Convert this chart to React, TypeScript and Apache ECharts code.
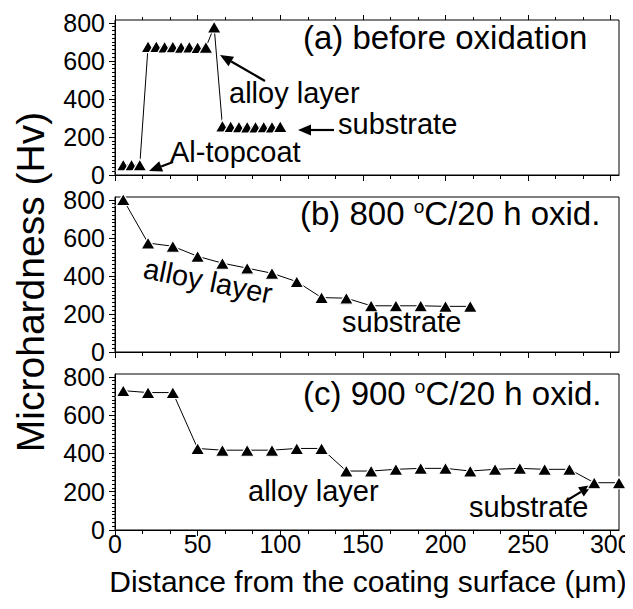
import React, { useEffect, useRef } from "react";
import * as echarts from "echarts";

// Panel (a) before oxidation
const xA = [5, 10, 15, 20, 25, 30, 35, 40, 45, 50, 55, 60, 65, 70, 75, 80, 85, 90, 95, 100];
const yA = [53, 53, 53, 675, 676, 673, 674, 672, 673, 670, 672, 778, 258, 255, 253, 252, 252, 253, 252, 255];
// Panel (b) 800 C / 20 h
const xB = [5, 20, 35, 50, 65, 80, 95, 110, 125, 140, 155, 170, 185, 200, 215];
const yB = [802, 573, 556, 503, 467, 441, 414, 370, 286, 283, 243, 243, 243, 240, 240];
// Panel (c) 900 C / 20 h
const xC = [5, 20, 35, 50, 65, 80, 95, 110, 125, 140, 155, 170, 185, 200, 215, 230, 245, 260, 275, 290, 305];
const yC = [728, 718, 718, 426, 417, 417, 417, 426, 426, 308, 308, 317, 322, 322, 308, 317, 322, 317, 317, 247, 247];

const xMajor = [0, 50, 100, 150, 200, 250, 300];
const yMajor = [0, 200, 400, 600, 800];

const FONT = "Liberation Sans, Arial, sans-serif";
const TICK_FS = 25;
const ANN_FS = 29;
const TITLE_FS = 33;

export default function App() {
  const ref = useRef<HTMLDivElement>(null);
  useEffect(() => {
    if (!ref.current) return;
    const chart = echarts.init(ref.current, undefined, { renderer: "svg" });

    const xMinor: number[] = [];
    for (let i = 0; i <= 18; i++) if (i % 3 !== 0) xMinor.push((i * 50) / 3);
    const yMinor: number[] = [];
    for (let v = 20; v < 800; v += 20) if (v % 200 !== 0) yMinor.push(v);

    const grids = [
      { left: 107, width: 504, top: 12, height: 155 },
      { left: 107, width: 504, top: 189, height: 155 },
      { left: 107, width: 504, top: 366, height: 156 },
    ];

    const tickAxis = (g: number, position: string, values: number[], length: number) => ({
      gridIndex: g, type: "value", min: 0, max: 305, position,
      axisLine: { show: false, onZero: false },
      axisTick: { show: true, inside: false, length, customValues: values, lineStyle: { color: "#000" } },
      axisLabel: { show: false },
      splitLine: { show: false },
    });

    const xAxes: any[] = [];
    const yAxes: any[] = [];
    grids.forEach((_, g) => {
      xAxes.push({
        gridIndex: g, type: "value", min: 0, max: 305, position: "bottom",
        axisLine: { show: true, onZero: false, lineStyle: { color: "#000", width: 1 } },
        axisTick: { show: true, inside: false, length: 6, customValues: xMajor, lineStyle: { color: "#000" } },
        axisLabel: { show: g === 2, customValues: xMajor, fontSize: TICK_FS, color: "#000", fontFamily: FONT, margin: 1 },
        splitLine: { show: false },
      });
      xAxes.push(tickAxis(g, "bottom", xMinor, 4));
      yAxes.push({
        gridIndex: g, type: "value", min: 0, max: 815, position: "left",
        axisLine: { show: true, onZero: false, lineStyle: { color: "#000", width: 1 } },
        axisTick: { show: true, inside: false, length: 6, customValues: yMajor, lineStyle: { color: "#000" } },
        axisLabel: {
          show: true, customValues: yMajor, fontSize: TICK_FS, color: "#000", fontFamily: FONT, margin: 10,
          padding: [0, 0, 10, 0],
        },
        splitLine: { show: false },
      });
      yAxes.push({
        gridIndex: g, type: "value", min: 0, max: 815, position: "left",
        axisLine: { show: false, onZero: false },
        axisTick: { show: true, inside: false, length: 3, customValues: yMinor, lineStyle: { color: "#000" } },
        axisLabel: { show: false },
        splitLine: { show: false },
      });
    });
    // top-edge ticks of panel (a)
    xAxes.push(tickAxis(0, "top", xMajor, 5));
    xAxes.push(tickAxis(0, "top", xMinor, 3));

    const mk = (xs: number[], ys: number[], g: number) => ({
      type: "line",
      xAxisIndex: g * 2,
      yAxisIndex: g * 2,
      data: xs.map((x, i) => [x, ys[i]]),
      symbol: "triangle",
      symbolSize: [14, 12],
      showAllSymbol: true,
      clip: true,
      lineStyle: { color: "#000", width: 1 },
      itemStyle: { color: "#000", borderColor: "#fff", borderWidth: 1.2 },
      emphasis: { disabled: true },
    });

    const txt = (text: string, x: number, y: number, extra: any = {}) => ({
      type: "text", x, y, ...extra,
      style: {
        text, font: `${ANN_FS}px ${FONT}`, fill: "#000", align: "left", verticalAlign: "middle",
        ...(extra.style || {}),
      },
    });

    const arrow = (x1: number, y1: number, x2: number, y2: number) => {
      const ang = Math.atan2(y2 - y1, x2 - x1);
      const L = 13, W = 5.5;
      const bx = x2 - L * Math.cos(ang), by = y2 - L * Math.sin(ang);
      const px = -Math.sin(ang) * W, py = Math.cos(ang) * W;
      return {
        type: "group",
        children: [
          { type: "line", shape: { x1, y1, x2: bx, y2: by }, style: { stroke: "#000", lineWidth: 2.2 } },
          { type: "polygon", shape: { points: [[x2, y2], [bx + px, by + py], [bx - px, by - py]] }, style: { fill: "#000" } },
        ],
      };
    };

    const supRich = {
      sup: { fontSize: 19, fontFamily: FONT, verticalAlign: "top", padding: [0, 0, 12, 0] },
    };

    chart.setOption({
      animation: false,
      backgroundColor: "#fff",
      grid: grids.map((g) => ({ ...g, show: true, borderColor: "#000", borderWidth: 1, backgroundColor: "transparent" })),
      xAxis: xAxes,
      yAxis: yAxes,
      series: [mk(xA, yA, 0), mk(xB, yB, 1), mk(xC, yC, 2)],
      graphic: [
        // axis titles
        txt("Microhardness (Hv)", 22, 274, { rotation: Math.PI / 2, style: { align: "center", font: `39px ${FONT}` } }),
        txt("Distance from the coating surface (\u03bcm)", 360, 573, { style: { align: "center", font: `30px ${FONT}` } }),
        // panel a
        txt("(a) before oxidation", 295, 29, { style: { font: `${TITLE_FS}px ${FONT}` } }),
        txt("alloy layer", 221, 85),
        arrow(257, 73, 212, 47),
        txt("substrate", 330, 116),
        arrow(326, 122, 290, 122),
        txt("Al-topcoat", 162, 144),
        arrow(165, 154, 141, 163),
        // panel b
        {
          type: "text", x: 292, y: 205,
          style: { text: "(b) 800 {sup|o}C/20 h oxid.", font: `${TITLE_FS}px ${FONT}`, fill: "#000", align: "left", verticalAlign: "middle", rich: supRich },
        },
        txt("alloy layer", 200, 273, { rotation: -0.2, style: { align: "center" } }),
        txt("substrate", 334, 314),
        // panel c
        {
          type: "text", x: 295, y: 385,
          style: { text: "(c) 900 {sup|o}C/20 h oxid.", font: `${TITLE_FS}px ${FONT}`, fill: "#000", align: "left", verticalAlign: "middle", rich: supRich },
        },
        txt("alloy layer", 240, 483),
        txt("substrate", 461, 499),
        arrow(558, 493, 584, 477),
      ],
    });
    return () => chart.dispose();
  }, []);
  return <div ref={ref} style={{ width: 633, height: 609 }} />;
}
